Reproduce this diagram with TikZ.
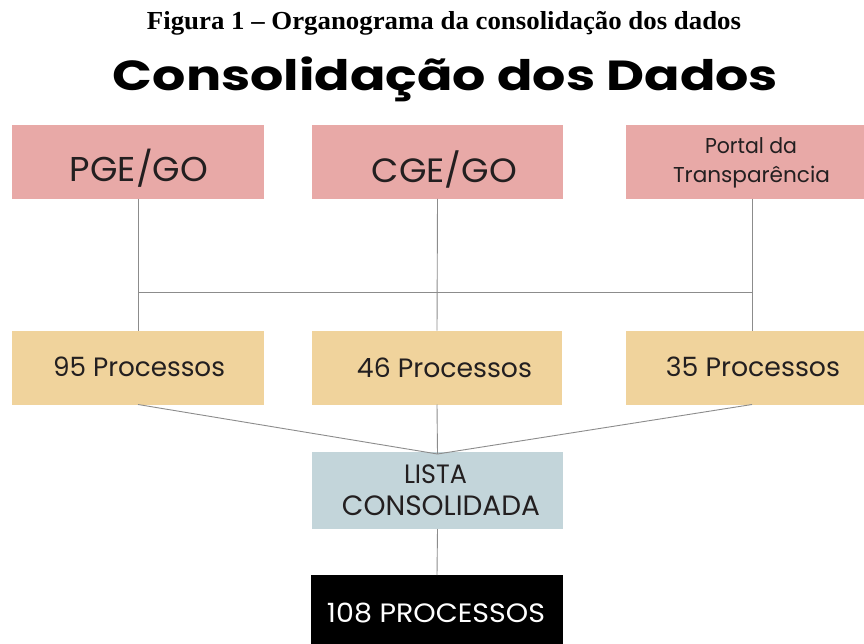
\documentclass[tikz,border=0pt]{standalone}
\usepackage{fontspec}
\usepackage{graphicx}
\setmainfont{Poppins}
\newfontfamily\capfont{Liberation Serif}
\newfontfamily\popfont{Poppins}
\definecolor{pinkbox}{HTML}{E8A9A7}
\definecolor{tanbox}{HTML}{F0D39C}
\definecolor{bluebox}{HTML}{C3D5DA}
\definecolor{linegray}{HTML}{8C8C8C}
\definecolor{txtdark}{HTML}{231F20}
\tikzset{
  boxbase/.style={inner sep=0pt, outer sep=0pt, minimum height=74pt},
  srcbox/.style={boxbase, fill=pinkbox, minimum width=252pt},
  cntbox/.style={boxbase, fill=tanbox, minimum width=252pt},
  lstbox/.style={boxbase, fill=bluebox, minimum width=251pt, minimum height=77pt},
  totbox/.style={boxbase, fill=black, minimum width=252pt, minimum height=75pt},
  lbl/.style={anchor=base, inner sep=0pt, text=txtdark, font=\popfont},
  conn/.style={draw=linegray, line width=0.9pt}
}
% width #1, cap height #2
\newcommand{\capfit}[3]{\resizebox{#1pt}{#2pt}{\vphantom{H}\smash{#3}}}
\begin{document}
\begin{tikzpicture}[x=1pt,y=-1pt]
\useasboundingbox (0,0) rectangle (864,644);
\fill[white] (0,0) rectangle (864,644);
\begin{scope}
\clip (0,0) rectangle (864,644);
% caption and title
\node[anchor=base, inner sep=0pt, font=\capfont\bfseries] (cap) at (444,30)
  {\capfit{594}{17}{Figura 1 – Organograma da consolidação dos dados}};
\node[anchor=base, inner sep=0pt, font=\popfont\bfseries] (title) at (445.5,91)
  {\capfit{665}{29.5}{Consolidação dos Dados}};
% boxes
\node[srcbox, minimum width=252pt] (pge) at (138,162) {};
\node[srcbox, minimum width=251pt] (cge) at (437.5,162) {};
\node[srcbox] (portal) at (752,162) {};
\node[cntbox] (p95) at (138,367.5) {};
\node[cntbox, minimum width=250pt] (p46) at (437,367.5) {};
\node[cntbox] (p35) at (752,367.5) {};
\node[lstbox] (lista) at (437.5,490.5) {};
\node[totbox] (total) at (437,612.5) {};
% labels
\node[lbl] (tpge) at (139,182) {\capfit{138}{24}{PGE/GO}};
\node[lbl] (tcge) at (444.5,183) {\capfit{145}{23.5}{CGE/GO}};
\node[lbl] (tportal1) at (751,154) {\capfit{92}{15}{Portal da}};
\node[lbl] (tportal2) at (751.5,183) {\capfit{157}{15}{Transparência}};
\node[lbl] (t95) at (139,376) {\capfit{172}{18.5}{95 Processos}};
\node[lbl] (t46) at (444.5,377) {\capfit{175}{18.5}{46 Processos}};
\node[lbl] (t35) at (753,376) {\capfit{174}{18.5}{35 Processos}};
\node[lbl] (tlista1) at (435.5,483) {\capfit{63}{18.5}{LISTA}};
\node[lbl] (tlista2) at (441,515) {\capfit{198}{19.5}{CONSOLIDADA}};
\node[lbl, text=white] (ttotal) at (436,622) {\capfit{218}{18.5}{108 PROCESSOS}};
% connectors
\draw[conn] (pge.south) -- (p95.north);
\draw[conn] (cge.south) -- (p46.north);
\draw[conn] (portal.south) -- (p35.north);
\path (pge.south) -- (p95.north) coordinate[pos=0.71] (jl);
\path (portal.south) -- (p35.north) coordinate[pos=0.71] (jr);
\draw[conn] (jl) -- (jr);
\coordinate (meet) at ([yshift=-2pt]lista.north);
\draw[conn] (p95.south) -- (meet);
\draw[conn] (p46.south) -- (meet);
\draw[conn] (p35.south) -- (meet);
\draw[conn] (lista.south) -- (total.north);
\end{scope}
\end{tikzpicture}
\end{document}
